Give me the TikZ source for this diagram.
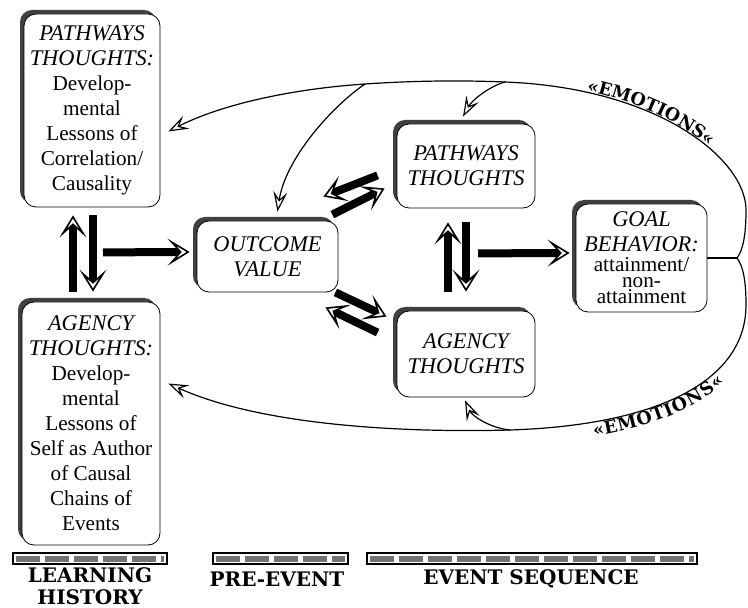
\documentclass[tikz,border=0pt]{standalone}
\usepackage{fontspec}
\setmainfont{Liberation Serif}
\newfontfamily\headfont{DejaVu Serif}
\usepackage{tikz}
\usetikzlibrary{arrows.meta,shadows,decorations.text}
\newcommand\emofont{\headfont\bfseries\fontsize{8.8}{9}\selectfont}
\newcommand\hd[1]{{\fontsize{11.2}{12.5}\selectfont\itshape #1}}
\tikzset{
  thought/.style={draw, fill=white, rounded corners=6pt, align=center,
                  inner sep=2pt, font=\fontsize{10.6}{12.5}\selectfont,
                  drop shadow={shadow xshift=-2pt, shadow yshift=2pt,
                               opacity=1, fill=black!75}},
  bigarr/.style={line width=4pt,
                 -{Stealth[fill=white, length=11pt, width=13.5pt, inset=6pt,
                   line width=0.8pt]}},
  thinarr/.style={line width=0.6pt,
                  -{Stealth[open, length=10pt, width=7pt, inset=4pt,
                    line width=0.6pt]}},
  fbline/.style={line width=0.6pt},
  stagelab/.style={font=\headfont\bfseries\fontsize{10}{11.2}\selectfont,
                   align=center},
  barframe/.style={draw, line width=0.8pt},
  barfill/.style={line width=3pt, black!55, dash pattern=on 12pt off 2.5pt},
}

\begin{document}
\begin{tikzpicture}[x=0.5pt, y=-0.5pt]
\useasboundingbox (0,0) rectangle (748,608);

% boxes
\node[thought, minimum width=68pt, minimum height=96.5pt] (pwl) at (92,110.5)
  {\hd{PATHWAYS}\\\hd{THOUGHTS:}\\Develop-\\mental\\Lessons of\\
   Correlation/\\Causality};
\node[thought, minimum width=69pt, minimum height=121.5pt] (agl) at (91,423.5)
  {\hd{AGENCY}\\\hd{THOUGHTS:}\\Develop-\\mental\\Lessons of\\
   Self as Author\\of Causal\\Chains of\\Events};
\node[thought, minimum width=70.5pt, minimum height=35.5pt] (outcome)
  at (267.5,256.5) {\hd{OUTCOME}\\\hd{VALUE}};
\node[thought, minimum width=69pt, minimum height=42pt] (pwe) at (466,166)
  {\hd{PATHWAYS}\\\hd{THOUGHTS}};
\node[thought, minimum width=69pt, minimum height=43pt] (age) at (466,354)
  {\hd{AGENCY}\\\hd{THOUGHTS}};
\node[thought, minimum width=65.5pt, minimum height=54pt] (goal) at (641.5,258)
  {\hd{GOAL}\\\hd{BEHAVIOR:}\\[-2.5pt]attainment/\\[-4.5pt]non-\\[-4.5pt]attainment};

% thick arrows
\draw[bigarr] ([shift={(-18,-10)}]agl.north) -- ([shift={(-19,8)}]pwl.south);
\draw[bigarr] ([shift={(1,8)}]pwl.south) -- ([shift={(2,-10)}]agl.north);
\draw[bigarr] ([shift={(11,45)}]pwl.south) -- ([shift={(-7,-4.5)}]outcome.west);
\draw[bigarr] ([shift={(-19,-33)}]pwe.south west) -- ([shift={(-15,-24)}]outcome.north east);
\draw[bigarr] ([shift={(-6,-6)}]outcome.north east) -- ([shift={(-12,-20)}]pwe.south west);
\draw[bigarr] ([shift={(-3,0)}]outcome.south east) -- ([shift={(-10,6)}]age.north west);
\draw[bigarr] ([shift={(-19,22)}]age.north west) -- ([shift={(-13,15)}]outcome.south east);
\draw[bigarr] ([shift={(-18,-19)}]age.north) -- ([shift={(-18,14)}]pwe.south);
\draw[bigarr] ([shift={(0,14)}]pwe.south) -- ([shift={(0,-19)}]age.north);
\draw[bigarr] ([shift={(12,45)}]pwe.south) -- ([shift={(-6,-5)}]goal.west);

% feedback loop
\coordinate (fork) at (737,258);
\coordinate (tr) at (746,210);
\coordinate (tm) at (505,82);
\coordinate (tb) at (365,84);
\coordinate (br) at (746,305);
\coordinate (bm) at (510,430);

\draw[fbline] (goal.east) -- (fork);
\draw[thinarr] (fork) .. controls (743,250) and (746,235) .. (tr)
  .. controls (746,160) and (660,88) .. (tm)
  .. controls (455,80) and (410,81) .. (tb)
  .. controls (290,89) and (220,105) .. ([shift={(8,21)}]pwl.east);
\draw[thinarr] (fork) .. controls (743,266) and (746,280) .. (br)
  .. controls (746,380) and (660,425) .. (bm)
  .. controls (400,433) and (260,425) .. ([shift={(8,-40)}]agl.east);
\draw[thinarr] (tb) .. controls (330,108) and (285,160) .. ([shift={(10,-9)}]outcome.north);
\draw[thinarr] (tm) .. controls (490,86) and (472,100) .. ([shift={(-3,-7)}]pwe.north);
\draw[thinarr] (bm) .. controls (490,428) and (472,416) .. ([shift={(-1,3)}]age.south);

\path[decorate, decoration={text along path, text={|\emofont|«EMOTIONS«},
      text align={left indent=41pt}, raise=0.5pt}]
  (tm) .. controls (660,88) and (746,160) .. (tr);
\path[decorate, decoration={text along path, text={|\emofont|«EMOTIONS«},
      text align={left indent=41pt}, raise=-7pt}]
  (bm) .. controls (660,425) and (746,380) .. (br);

% stages
\foreach \xa/\xb in {13/167, 213/348, 367/697} {
  \draw[barframe] (\xa,553) rectangle (\xb,564);
  \draw[barfill] (\xa+3,558.5) -- (\xb-3,558.5);
}
\node[stagelab] (lh) at (90,586) {LEARNING\\HISTORY};
\node[stagelab] (pe) at (277,579) {PRE-EVENT};
\node[stagelab] (es) at (531,579) {EVENT SEQUENCE};

\end{tikzpicture}
\end{document}
